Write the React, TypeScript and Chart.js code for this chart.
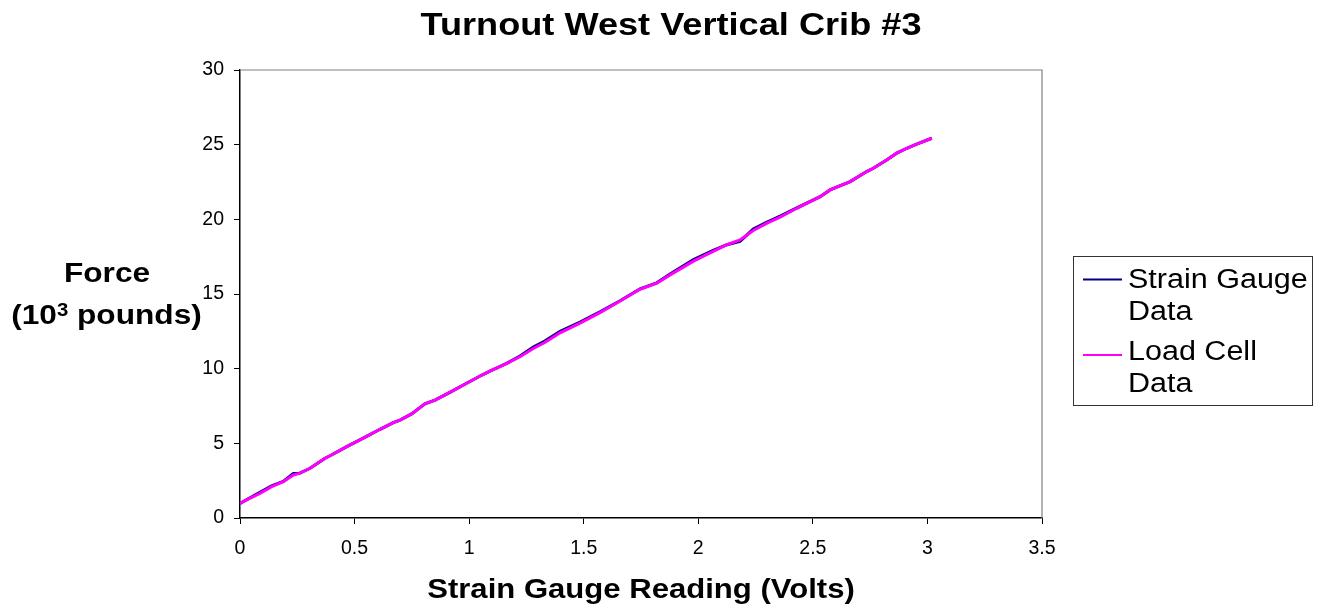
import React, { useEffect, useRef } from "react";
import { Chart, registerables } from "chart.js";

Chart.register(...registerables);

const FONT = "'Liberation Sans', Arial, sans-serif";
const SX = 1.13; // horizontal stretch of the reference text

const titleText = "Turnout West Vertical Crib #3";
const xTitle = "Strain Gauge Reading (Volts)";
const yTitleTop = "Force";
const yTitleParts = ["(10", "3", " pounds)"];
const seriesNames = [["Strain Gauge", "Data"], ["Load Cell", "Data"]];

const voltage = [0, 0.04, 0.087, 0.138, 0.189, 0.233, 0.259, 0.306, 0.371, 0.393, 0.466, 0.54, 0.611, 0.669, 0.698, 0.749, 0.807, 0.851, 0.92, 0.989, 1.048, 1.1, 1.164, 1.222, 1.28, 1.33, 1.397, 1.484, 1.571, 1.659, 1.746, 1.819, 1.877, 1.979, 2.065, 2.125, 2.182, 2.24, 2.3, 2.357, 2.43, 2.532, 2.575, 2.663, 2.735, 2.764, 2.822, 2.866, 2.91, 2.953, 3.019];

const loadCell = [0.98, 1.3, 1.65, 2.1, 2.43, 2.88, 2.99, 3.33, 4.0, 4.17, 4.78, 5.36, 5.94, 6.38, 6.56, 6.97, 7.64, 7.9, 8.45, 9.02, 9.51, 9.9, 10.36, 10.8, 11.35, 11.75, 12.4, 13.05, 13.75, 14.53, 15.32, 15.72, 16.28, 17.2, 17.85, 18.3, 18.62, 19.25, 19.75, 20.15, 20.74, 21.52, 21.97, 22.53, 23.2, 23.42, 23.98, 24.43, 24.76, 25.03, 25.43];

const strainGauge = [0.98, 1.32, 1.72, 2.15, 2.45, 2.98, 2.99, 3.33, 4.0, 4.17, 4.78, 5.36, 5.94, 6.38, 6.56, 6.97, 7.64, 7.9, 8.45, 9.02, 9.51, 9.9, 10.36, 10.85, 11.45, 11.85, 12.5, 13.12, 13.8, 14.55, 15.35, 15.75, 16.33, 17.3, 17.92, 18.3, 18.52, 19.35, 19.82, 20.22, 20.77, 21.52, 21.97, 22.53, 23.2, 23.42, 23.98, 24.43, 24.76, 25.03, 25.43];

const xTicks = { min: 0, max: 3.5, step: 0.5 };
const yTicks = { min: 0, max: 30, step: 5 };

const colors = ["#000080", "#FF00FF"];

function stretchText(ctx: any, text: string, x: number, y: number, align: string) {
  ctx.save();
  ctx.translate(x, y);
  ctx.scale(SX, 1);
  ctx.textAlign = align;
  ctx.fillText(text, 0, 0);
  ctx.restore();
}

const decorPlugin = {
  id: "decor",
  afterDraw(chart: any) {
    const { ctx, chartArea } = chart;
    const { left, right, top, bottom } = chartArea;
    ctx.save();
    ctx.strokeStyle = "#808080";
    ctx.lineWidth = 1.2;
    ctx.beginPath();
    ctx.moveTo(left, top);
    ctx.lineTo(right, top);
    ctx.lineTo(right, bottom);
    ctx.stroke();

    ctx.fillStyle = "#000";
    ctx.textBaseline = "alphabetic";

    ctx.font = `bold 32px ${FONT}`;
    stretchText(ctx, titleText, 671, 35, "center");

    ctx.font = `bold 27.5px ${FONT}`;
    stretchText(ctx, xTitle, (left + right) / 2, 598, "center");

    // y title
    ctx.font = `bold 28px ${FONT}`;
    stretchText(ctx, yTitleTop, 107, 282, "center");
    const big = `bold 28px ${FONT}`;
    const small = `bold 18px ${FONT}`;
    ctx.font = big;
    const w1 = ctx.measureText(yTitleParts[0]).width;
    const w3 = ctx.measureText(yTitleParts[2]).width;
    ctx.font = small;
    const w2 = ctx.measureText(yTitleParts[1]).width;
    const total = (w1 + w2 + w3) * SX;
    let x = 106.5 - total / 2;
    ctx.font = big;
    stretchText(ctx, yTitleParts[0], x, 324, "left");
    x += w1 * SX;
    ctx.font = small;
    stretchText(ctx, yTitleParts[1], x, 316, "left");
    x += w2 * SX;
    ctx.font = big;
    stretchText(ctx, yTitleParts[2], x, 324, "left");

    // legend
    ctx.strokeStyle = "#333";
    ctx.lineWidth = 1;
    ctx.strokeRect(1073.5, 256.5, 239, 149);
    ctx.font = `27px ${FONT}`;
    const baselines = [[288, 320], [360, 392]];
    const lineYs = [279.5, 355];
    seriesNames.forEach((lines, i) => {
      ctx.strokeStyle = colors[i];
      ctx.lineWidth = 2;
      ctx.beginPath();
      ctx.moveTo(1083, lineYs[i]);
      ctx.lineTo(1122, lineYs[i]);
      ctx.stroke();
      ctx.fillStyle = "#000";
      lines.forEach((t, j) => stretchText(ctx, t, 1128, baselines[i][j], "left"));
    });
    ctx.restore();
  },
};

export default function App() {
  const ref = useRef<HTMLCanvasElement | null>(null);
  useEffect(() => {
    if (!ref.current) return;
    const mk = (ys: number[]) => voltage.map((x, i) => ({ x, y: ys[i] }));
    const chart = new Chart(ref.current, {
      type: "line",
      data: {
        datasets: [
          {
            label: seriesNames[1].join(" "),
            data: mk(loadCell),
            borderColor: colors[1],
            borderWidth: 3,
            pointRadius: 0,
            tension: 0,
            order: 0,
          },
          {
            label: seriesNames[0].join(" "),
            data: mk(strainGauge),
            borderColor: colors[0],
            borderWidth: 3,
            pointRadius: 0,
            tension: 0,
            order: 1,
          },
        ],
      },
      options: {
        responsive: false,
        animation: false,
        layout: { padding: { left: 200, right: 281, top: 70, bottom: 51 } },
        plugins: { legend: { display: false }, title: { display: false }, tooltip: { enabled: false } },
        scales: {
          x: {
            type: "linear",
            min: xTicks.min,
            max: xTicks.max,
            afterFit: (s: any) => { s.height = 40; },
            ticks: {
              stepSize: xTicks.step,
              color: "#000",
              font: { family: FONT, size: 19.5 },
              padding: 13,
              maxRotation: 0,
              callback: (v: any) => String(Number(v)),
            },
            grid: { display: true, drawOnChartArea: false, drawTicks: true, tickLength: 6, color: "#000" },
            border: { display: true, color: "#000", width: 1.5 },
          },
          y: {
            type: "linear",
            min: yTicks.min,
            max: yTicks.max,
            afterFit: (s: any) => { s.width = 40; },
            ticks: { stepSize: yTicks.step, color: "#000", font: { family: FONT, size: 19.5 }, padding: 10 },
            grid: { display: true, drawOnChartArea: false, drawTicks: true, tickLength: 6, color: "#000" },
            border: { display: true, color: "#000", width: 1.5 },
          },
        },
      },
      plugins: [decorPlugin],
    });
    return () => chart.destroy();
  }, []);
  return (
    <div style={{ position: "absolute", left: 0, top: 0, width: 1323, height: 609, background: "#fff" }}>
      <canvas ref={ref} width={1323} height={609} style={{ display: "block" }} />
    </div>
  );
}
